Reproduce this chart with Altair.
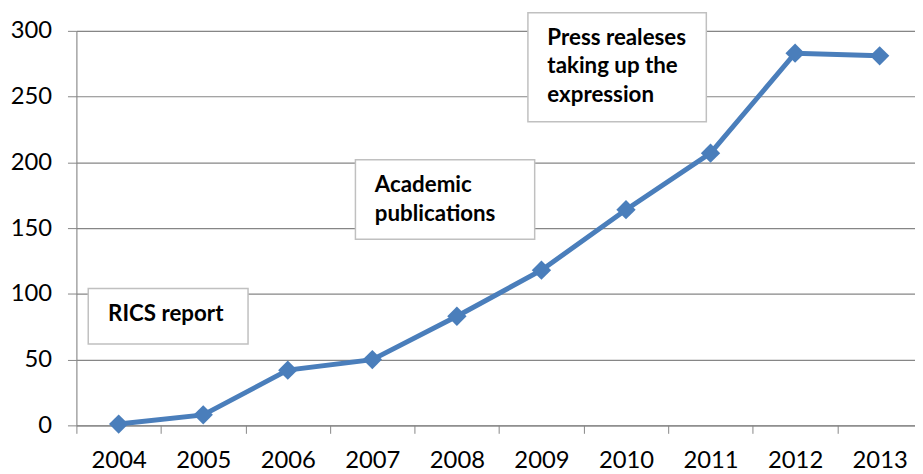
import altair as alt
import pandas as pd

# ---- data ----
years = [2004, 2005, 2006, 2007, 2008, 2009, 2010, 2011, 2012, 2013]
counts = [1, 8, 42, 50, 83, 118, 164, 207, 283, 281]
y_ticks = [0, 50, 100, 150, 200, 250, 300]
x_tick_edges = [2003.5, 2004.5, 2005.5, 2006.5, 2007.5, 2008.5, 2009.5, 2010.5, 2011.5, 2012.5]

note_texts = ["RICS report", "Academic\npublications", "Press realeses\ntaking up the\nexpression"]
note_x = [2003.64, 2006.80, 2008.84]
note_x2 = [2005.53, 2008.92, 2010.95]
note_y = [104.0, 202.0, 313.8]
note_y2 = [61.8, 141.5, 230.9]
note_tx = [2003.875, 2007.03, 2009.07]
note_ty = [79.1, 177.4, 289.2]

df = pd.DataFrame({"year": years, "count": counts})
notes = pd.DataFrame({"text": note_texts, "x": note_x, "x2": note_x2, "y": note_y,
                      "y2": note_y2, "tx": note_tx, "ty": note_ty})

GRID = "#868686"
BLUE = "#4A7EBB"
FONT = "Lato"

xscale = alt.Scale(domain=[2003.5, 2013.418], nice=False, zero=False)
yscale = alt.Scale(domain=[0, 300], nice=False)

x_axis = alt.Axis(values=x_tick_edges, labelExpr="'' + (datum.value + 0.5)",
                  labelOffset=42.65, tickSize=8, tickColor=GRID, domainColor=GRID,
                  grid=False, labelFont=FONT, labelFontSize=24, labelColor="#000000",
                  labelPadding=15, labelOverlap=False, labelFlush=False, labelBound=False,
                  title=None)
y_axis = alt.Axis(values=y_ticks, tickSize=9, tickColor=GRID, domainColor=GRID,
                  grid=True, gridColor=GRID, gridWidth=1.2, labelFont=FONT,
                  labelFontSize=24, labelColor="#000000", labelPadding=16, title=None)

base_line = alt.Chart(df).encode(
    x=alt.X("year:Q", scale=xscale, axis=x_axis),
    y=alt.Y("count:Q", scale=yscale, axis=y_axis),
)
line = base_line.mark_line(color=BLUE, strokeWidth=5)
points = base_line.mark_point(shape="diamond", filled=True, size=380, opacity=1, color=BLUE)

boxes = alt.Chart(notes).mark_rect(fill="white", stroke="#C0C0C0", strokeWidth=1.5).encode(
    x=alt.X("x:Q", scale=xscale, axis=x_axis),
    x2="x2:Q",
    y=alt.Y("y:Q", scale=yscale, axis=y_axis),
    y2="y2:Q",
)
texts = alt.Chart(notes).mark_text(align="left", baseline="alphabetic", font=FONT,
                                   fontWeight="bold", fontSize=22.5, lineBreak="\n",
                                   lineHeight=28.7, color="#000000").encode(
    x=alt.X("tx:Q", scale=xscale, axis=x_axis),
    y=alt.Y("ty:Q", scale=yscale, axis=y_axis),
    text="text:N",
)

chart = alt.layer(boxes, texts, line, points).properties(
    width=846, height=398,
    autosize=alt.AutoSizeParams(type="none"),
    padding={"left": 69, "top": 21, "right": 0, "bottom": 47},
).configure_view(stroke=None).configure(background="white")

chart.save("out.html", embed_options={"renderer": "svg", "actions": False})
